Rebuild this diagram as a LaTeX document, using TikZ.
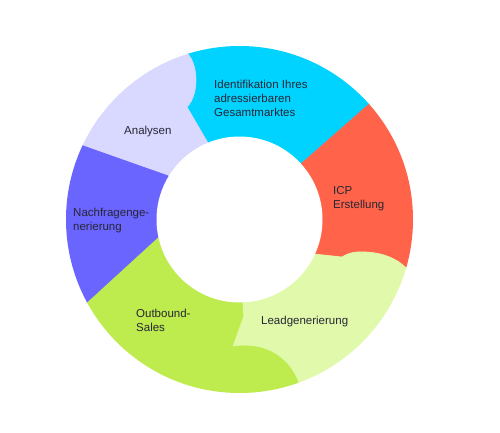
\documentclass[tikz,border=0pt]{standalone}
\usepackage{fontspec}
\setmainfont{Liberation Sans}
\definecolor{cLav}{RGB}{217,216,255}
\definecolor{cCyan}{RGB}{0,211,255}
\definecolor{cRed}{RGB}{255,100,74}
\definecolor{cLead}{RGB}{225,249,170}
\definecolor{cLime}{RGB}{190,235,78}
\definecolor{cViolet}{RGB}{106,101,255}
\definecolor{cText}{RGB}{38,38,52}
\tikzset{
  seg/.style={line width=0.6pt, line join=round},
  lbl/.style={anchor=base west, align=left, inner sep=0pt, text=cText,
    font=\fontsize{11.5}{14.2}\selectfont}
}
\begin{document}
\begin{tikzpicture}[x=1pt,y=-1pt]
\useasboundingbox[fill=white] (0,0) rectangle (500,433);
\coordinate (C) at (239.5,219.5);
% outer extension points
\coordinate (E1) at ([shift={(239.5,219.5)}]252.5:260);
\coordinate (E2) at ([shift={(239.5,219.5)}]318.3:260);
\coordinate (E3) at ([shift={(239.5,219.5)}]16.0:260);
\coordinate (E4) at ([shift={(239.5,219.5)}]70.2:260);
\coordinate (E5) at ([shift={(239.5,219.5)}]151.6:260);
\coordinate (E6) at ([shift={(239.5,219.5)}]205.5:260);
% far corners
\coordinate (F1) at ([shift={(239.5,219.5)}]285.4:420);
\coordinate (F2) at ([shift={(239.5,219.5)}]347.2:420);
\coordinate (F3) at ([shift={(239.5,219.5)}]43.1:420);
\coordinate (F4) at ([shift={(239.5,219.5)}]110.9:420);
\coordinate (F5) at ([shift={(239.5,219.5)}]178.6:420);
\coordinate (F6) at ([shift={(239.5,219.5)}]229.0:420);
\begin{scope}
\clip (C) circle (173.5);
% Identifikation (cyan)
\filldraw[seg, fill=cCyan, draw=cCyan] (C) -- (208,143) -- (187,107)
  .. controls (199,95) and (199,65) .. (187,53) -- (E1) -- (F1) -- (E2)
  -- (368,105) -- (302,163) -- cycle;
% ICP (red)
\filldraw[seg, fill=cRed, draw=cRed] (C) -- (302,163) -- (368,105) -- (E2) -- (F2) -- (E3)
  -- (405,267) .. controls (397,259) and (384,253) .. (366,252)
  .. controls (357,251.5) and (350,252) .. (342,257) -- (314,254) -- cycle;
% Leadgenerierung
\filldraw[seg, fill=cLead, draw=cLead] (C) -- (314,254) -- (342,257)
  .. controls (350,252) and (357,251.5) .. (366,252)
  .. controls (384,253) and (397,259) .. (405,267) -- (E3) -- (F3) -- (E4)
  -- (299,385) .. controls (288,352) and (258,342) .. (232,347)
  -- (243,316) -- (242,301) -- cycle;
% Outbound (lime)
\filldraw[seg, fill=cLime, draw=cLime] (C) -- (242,301) -- (243,316) -- (232,347)
  .. controls (258,342) and (288,352) .. (299,385) -- (E4) -- (F4) -- (E5)
  -- (87,302) -- (158,237) -- cycle;
% Nachfrage (violet)
\filldraw[seg, fill=cViolet, draw=cViolet] (C) -- (158,237) -- (87,302) -- (E5) -- (F5) -- (E6)
  -- (83,145) -- (168,175) -- cycle;
% Analysen (lavender)
\filldraw[seg, fill=cLav, draw=cLav] (C) -- (168,175) -- (83,145) -- (E6) -- (F6) -- (E1)
  -- (187,53) .. controls (199,65) and (199,95) .. (187,107) -- (208,143) -- cycle;
\end{scope}
\fill[white] (C) circle (83);
% labels (base anchor = baseline of the last line)
\node[lbl] (t1) at (214,116.5) {Identifikation Ihres\\adressierbaren\\Gesamtmarktes};
\node[lbl] (t2) at (124,134) {Analysen};
\node[lbl] (t3) at (333,208.2) {ICP\\Erstellung};
\node[lbl] (t4) at (73,230.7) {Nachfragenge-\\nerierung};
\node[lbl] (t5) at (136,331.2) {Outbound-\\Sales};
\node[lbl] (t6) at (261,324) {Leadgenerierung};
\end{tikzpicture}
\end{document}
